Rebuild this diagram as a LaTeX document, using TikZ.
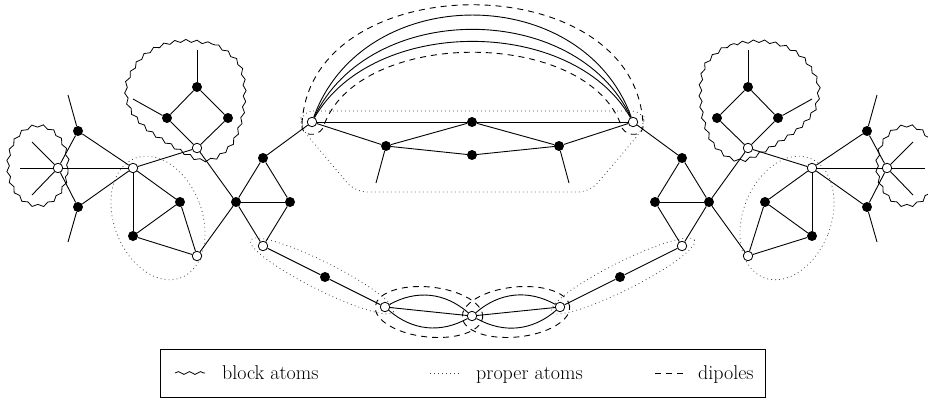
\documentclass[tikz,border=0pt]{standalone}
\usepackage{fontspec}
\usetikzlibrary{decorations.pathmorphing}
\pgfdeclarelayer{bg}
\pgfsetlayers{bg,main}
\tikzset{
  edge/.style={line width=0.9pt},
  bv/.style={circle, fill=black, inner sep=0pt, minimum size=10pt},
  wv/.style={circle, draw=black, fill=white, line width=0.8pt, inner sep=0pt, minimum size=9.5pt},
  blockatom/.style={line width=0.8pt, decorate, decoration={snake, segment length=11pt, amplitude=1.4pt}},
  properatom/.style={line width=0.8pt, dash pattern=on 0.8pt off 3.2pt, black!75},
  dipole/.style={line width=0.9pt, dash pattern=on 6pt off 5pt},
  legtext/.style={anchor=base west, inner sep=0pt, font=\fontsize{20}{24}\selectfont},
}
\begin{document}
\begin{tikzpicture}[x=1pt,y=-1pt]
\useasboundingbox (0,0) rectangle (928,407);

% ---------- left side ----------
\node[wv] (L1) at (58,168) {};
\coordinate (L1a) at (20,168);
\coordinate (L1b) at (32,142);
\coordinate (L1c) at (32,195);
\node[bv] (A1) at (78,131) {};
\coordinate (A1l) at (68,95);
\node[bv] (A2) at (78,207) {};
\coordinate (A2l) at (68,242);
\node[wv] (W2) at (133,168) {};
\node[wv] (W3) at (197,148) {};
\node[bv] (B1) at (197,87) {};
\coordinate (B1l) at (197,50);
\node[bv] (B2) at (167,118) {};
\coordinate (B2l) at (133,99);
\node[bv] (B3) at (228,118) {};
\node[bv] (C1) at (180,202) {};
\node[bv] (C2) at (133,236) {};
\node[wv] (W4) at (197,256) {};
\node[bv] (D1) at (236,202) {};
\node[bv] (D2) at (263,158) {};
\node[bv] (D3) at (290,202) {};
\node[wv] (W5) at (263,246) {};
\node[bv] (E1) at (325,277) {};

% ---------- right side ----------
\node[wv] (L1r) at (887,168) {};
\coordinate (L1ar) at (925,168);
\coordinate (L1br) at (913,142);
\coordinate (L1cr) at (913,195);
\node[bv] (A1r) at (867,131) {};
\coordinate (A1lr) at (877,95);
\node[bv] (A2r) at (867,207) {};
\coordinate (A2lr) at (877,242);
\node[wv] (W2r) at (812,168) {};
\node[wv] (W3r) at (748,148) {};
\node[bv] (B1r) at (748,87) {};
\coordinate (B1lr) at (748,50);
\node[bv] (B2r) at (778,118) {};
\coordinate (B2lr) at (812,99);
\node[bv] (B3r) at (717,118) {};
\node[bv] (C1r) at (765,202) {};
\node[bv] (C2r) at (812,236) {};
\node[wv] (W4r) at (748,256) {};
\node[bv] (D1r) at (709,202) {};
\node[bv] (D2r) at (682,158) {};
\node[bv] (D3r) at (655,202) {};
\node[wv] (W5r) at (682,246) {};
\node[bv] (E1r) at (620,277) {};

% ---------- centre ----------
\node[wv] (TW1) at (312,122) {};
\node[wv] (TW2) at (633,122) {};
\node[bv] (TM) at (472,122) {};
\node[bv] (TB) at (472,155) {};
\node[bv] (T1) at (386,146) {};
\coordinate (T1l) at (376,183);
\node[bv] (T1r) at (559,146) {};
\coordinate (T1lr) at (569,183);
\node[wv] (BW1) at (385,307) {};
\node[wv] (BW2) at (472,316) {};
\node[wv] (BW3) at (560,307) {};

% ---------- edges ----------
\foreach \a/\b in {L1/L1a,L1/L1b,L1/L1c,L1/W2,L1/A1,L1/A2,A1/A1l,A2/A2l,A1/W2,A2/W2,
  W2/W3,W2/C1,W2/C2,C1/C2,C1/W4,C2/W4,W4/D1,W3/D1,W3/B2,W3/B3,B2/B1,B3/B1,B1/B1l,B2/B2l,
  D1/D2,D1/D3,D1/W5,D2/D3,D3/W5,D2/TW1,W5/E1,E1/BW1,
  L1r/L1ar,L1r/L1br,L1r/L1cr,L1r/W2r,L1r/A1r,L1r/A2r,A1r/A1lr,A2r/A2lr,A1r/W2r,A2r/W2r,
  W2r/W3r,W2r/C1r,W2r/C2r,C1r/C2r,C1r/W4r,C2r/W4r,W4r/D1r,W3r/D1r,W3r/B2r,W3r/B3r,B2r/B1r,B3r/B1r,B1r/B1lr,B2r/B2lr,
  D1r/D2r,D1r/D3r,D1r/W5r,D2r/D3r,D3r/W5r,D2r/TW2,W5r/E1r,E1r/BW3,
  TW1/TM,TM/TW2,TW1/T1,T1/TM,T1/TB,TB/T1r,T1r/TM,T1r/TW2,T1/T1l,T1r/T1lr,
  BW1/BW2,BW2/BW3}
  \draw[edge] (\a) -- (\b);

\draw[edge] (TW1) .. controls (363,-19) and (582,-19) .. (TW2);
\draw[edge] (TW1) .. controls (369,0) and (576,0) .. (TW2);
\draw[edge] (TW1) .. controls (373,16) and (572,16) .. (TW2);
\draw[edge] (BW1) to[bend left=35] (BW2);
\draw[edge] (BW1) to[bend right=35] (BW2);
\draw[edge] (BW2) to[bend left=35] (BW3);
\draw[edge] (BW2) to[bend right=35] (BW3);

% ---------- atoms ----------
\begin{pgfonlayer}{bg}
\draw[blockatom] (38,168.5) ellipse [x radius=30pt, y radius=40pt];
\draw[blockatom] (907,168.5) ellipse [x radius=30pt, y radius=40pt];
\draw[blockatom] plot[smooth cycle] coordinates {(183,40) (215,45) (236,62) (242,85) (240,115) (230,142) (213,157) (197,159) (180,151) (165,142) (143,127) (127,107) (124,83) (138,58) (158,45)};
\draw[blockatom] plot[smooth cycle] coordinates {(762,40) (730,45) (709,62) (703,85) (705,115) (715,142) (732,157) (748,159) (765,151) (780,142) (802,127) (818,107) (821,83) (807,58) (787,45)};

\draw[properatom, rotate around={21:(158,218)}] (158,218) ellipse [x radius=44pt, y radius=64pt];
\draw[properatom, rotate around={-21:(787,218)}] (787,218) ellipse [x radius=44pt, y radius=64pt];
\draw[properatom, rotate around={-26.6:(322,276)}] (322,276) ellipse [x radius=80pt, y radius=14pt];
\draw[properatom, rotate around={26.6:(623,276)}] (623,276) ellipse [x radius=80pt, y radius=14pt];
\draw[properatom, rounded corners=12pt] (301,111) -- (644,111) -- (644,128) -- (590,192) -- (355,192) -- (301,128) -- cycle;

\draw[dipole] (302,124) .. controls (310,-35) and (635,-35) .. (643,124)
  .. controls (645,136) and (628,138) .. (622,128)
  .. controls (590,27) and (355,27) .. (323,128)
  .. controls (317,138) and (300,136) .. (302,124) -- cycle;
\draw[dipole, rotate around={-6:(429,312)}] (429,312) ellipse [x radius=54pt, y radius=25pt];
\draw[dipole, rotate around={6:(516,312)}] (516,312) ellipse [x radius=54pt, y radius=25pt];
\end{pgfonlayer}

% ---------- legend ----------
\node[draw, line width=0.9pt, minimum width=605pt, minimum height=48pt, inner sep=0pt] (legend) at (462.5,373) {};
\coordinate (lgA1) at (175,373);
\coordinate (lgA2) at (205,373);
\draw[blockatom] (lgA1) -- (lgA2);
\node[legtext] (lgAt) at (222,379) {block atoms};
\coordinate (lgB1) at (430,373);
\coordinate (lgB2) at (460,373);
\draw[properatom] (lgB1) -- (lgB2);
\node[legtext] (lgBt) at (476,379) {proper atoms};
\coordinate (lgC1) at (655,373);
\coordinate (lgC2) at (686,373);
\draw[dipole] (lgC1) -- (lgC2);
\node[legtext] (lgCt) at (698,379) {dipoles};
\end{tikzpicture}
\end{document}
